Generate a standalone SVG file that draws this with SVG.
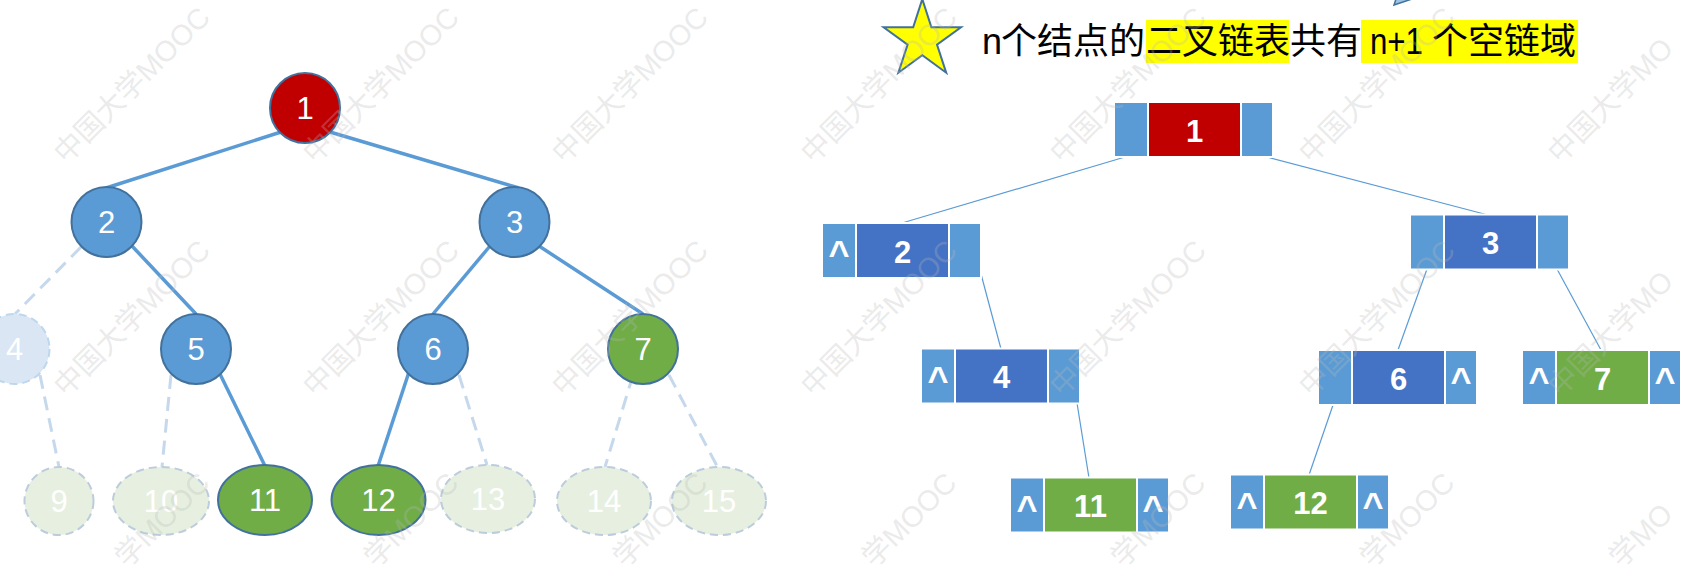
<svg xmlns="http://www.w3.org/2000/svg" width="1686" height="574" viewBox="0 0 1686 574">
<defs>
<style>
.wm{font-family:"Liberation Sans","Noto Sans CJK SC",sans-serif;font-size:29px;fill:#B8B8B8;fill-opacity:0.3}
.solid{stroke:#5B9BD5;stroke-width:3.5;fill:none}
.dash{stroke:#C5D8EC;stroke-width:3;stroke-dasharray:14 8;fill:none}
.nb{fill:#5B9BD5;stroke:#41719C;stroke-width:2}
.nr{fill:#C00000;stroke:#41719C;stroke-width:2}
.ng{fill:#70AD47;stroke:#41719C;stroke-width:2}
.fb{fill:#DAE6F4;stroke:#BDD7EE;stroke-width:2;stroke-dasharray:8 5}
.fg{fill:#E7F0E0;stroke:#BCCCDC;stroke-width:2;stroke-dasharray:8 5}
.lt{font-family:"Liberation Sans",Arial,sans-serif;font-size:31px;fill:#FFFFFF;text-anchor:middle}
.ptr{fill:#5B9BD5;stroke:#FFFFFF;stroke-width:2}
.db{fill:#4472C4;stroke:#FFFFFF;stroke-width:2}
.dg{fill:#70AD47;stroke:#FFFFFF;stroke-width:2}
.dr{fill:#C00000;stroke:#FFFFFF;stroke-width:2}
.rt{font-family:"Liberation Sans",Arial,sans-serif;font-weight:bold;font-size:31px;fill:#FFFFFF;text-anchor:middle}
.cr{font-family:"Liberation Sans",Arial,sans-serif;font-weight:bold;font-size:36px;fill:#FFFFFF;text-anchor:middle}
.link{stroke:#5B9BD5;stroke-width:1.2;fill:none}
.title{font-family:"Liberation Sans","Noto Sans CJK SC",sans-serif;font-size:36px;fill:#000000}
.hl{fill:#FFFF00}
</style>
</defs>

<g id="top-fragment">
<polygon points="1394,5 1412,-1 1396,-1" fill="#9DC3E6" stroke="#41719C" stroke-width="1.5"/>
</g>

<g id="title">
<polygon points="922.3,-0.9 931.4,27.3 961,27.2 937,44.6 946.2,72.7 922.3,55.3 898.4,72.7 907.6,44.6 883.6,27.2 913.2,27.3" fill="#FFFF00" stroke="#41719C" stroke-width="2"/>
<rect class="hl" x="1146" y="20" width="143" height="43"/>
<rect class="hl" x="1361" y="20" width="217" height="43"/>
<text class="title" y="54"><tspan x="982">n</tspan><tspan x="1001">个结点的</tspan><tspan x="1146">二叉链表</tspan><tspan x="1290">共有</tspan></text>
<text class="title" x="1370" y="54" textLength="53" lengthAdjust="spacingAndGlyphs">n+1</text>
<text class="title" x="1432" y="54">个空链域</text>
</g>

<g id="connectors">
<line class="solid" x1="281" y1="132" x2="106" y2="188"/>
<line class="solid" x1="330" y1="132" x2="519" y2="188"/>
<line class="solid" x1="132" y1="246" x2="196" y2="314"/>
<line class="dash" x1="81" y1="247" x2="15" y2="314"/>
<line class="solid" x1="490" y1="246" x2="433" y2="314"/>
<line class="solid" x1="539" y1="246" x2="643" y2="314"/>
<line class="dash" x1="40" y1="375" x2="59" y2="467"/>
<line class="dash" x1="171" y1="375" x2="162" y2="467"/>
<line class="solid" x1="219" y1="372" x2="265" y2="466"/>
<line class="solid" x1="409" y1="372" x2="378" y2="466"/>
<line class="dash" x1="459" y1="375" x2="487" y2="465"/>
<line class="dash" x1="633" y1="375" x2="605" y2="467"/>
<line class="dash" x1="669" y1="375" x2="717" y2="466"/>

<line class="link" x1="1125" y1="157" x2="902" y2="223"/>
<line class="link" x1="1267" y1="157" x2="1488" y2="215"/>
<line class="link" x1="981" y1="274" x2="1001" y2="349"/>
<line class="link" x1="1077" y1="403" x2="1089" y2="478"/>
<line class="link" x1="1427" y1="269" x2="1398" y2="350"/>
<line class="link" x1="1557" y1="269" x2="1601" y2="350"/>
<line class="link" x1="1333" y1="405" x2="1309" y2="475"/>
</g>

<g id="t1"><circle class="nr" cx="305" cy="108" r="35"/><text class="lt" x="305" y="119">1</text></g>
<g id="t2"><circle class="nb" cx="106.5" cy="222" r="35"/><text class="lt" x="106.5" y="233">2</text></g>
<g id="t3"><circle class="nb" cx="514.5" cy="222" r="35"/><text class="lt" x="514.5" y="233">3</text></g>
<g id="t4"><circle class="fb" cx="14.5" cy="349" r="35"/><text class="lt" x="14.5" y="360">4</text></g>
<g id="t5"><circle class="nb" cx="196" cy="349" r="35"/><text class="lt" x="196" y="360">5</text></g>
<g id="t6"><circle class="nb" cx="433" cy="349" r="35"/><text class="lt" x="433" y="360">6</text></g>
<g id="t7"><circle class="ng" cx="643" cy="349" r="35"/><text class="lt" x="643" y="360">7</text></g>
<g id="t9"><ellipse class="fg" cx="59" cy="501" rx="34.5" ry="34"/><text class="lt" x="59" y="512">9</text></g>
<g id="t10"><ellipse class="fg" cx="161" cy="501" rx="48" ry="34"/><text class="lt" x="161" y="512">10</text></g>
<g id="t11"><ellipse class="ng" cx="265" cy="500" rx="47" ry="35"/><text class="lt" x="265" y="511">11</text></g>
<g id="t12"><ellipse class="ng" cx="378.5" cy="500" rx="47" ry="35"/><text class="lt" x="378.5" y="511">12</text></g>
<g id="t13"><ellipse class="fg" cx="488" cy="499" rx="47" ry="34"/><text class="lt" x="488" y="510">13</text></g>
<g id="t14"><ellipse class="fg" cx="604" cy="501" rx="47" ry="34"/><text class="lt" x="604" y="512">14</text></g>
<g id="t15"><ellipse class="fg" cx="719" cy="501" rx="47" ry="34"/><text class="lt" x="719" y="512">15</text></g>

<g id="l1">
<rect class="ptr" x="1114" y="102" width="34" height="55"/>
<rect class="dr" x="1148" y="102" width="93" height="55"/>
<rect class="ptr" x="1241" y="102" width="32" height="55"/>
<text class="rt" x="1194.5" y="142">1</text>
</g>
<g id="l2">
<rect class="ptr" x="822" y="223" width="34" height="55"/>
<rect class="db" x="856" y="223" width="93" height="55"/>
<rect class="ptr" x="949" y="223" width="32" height="55"/>
<text class="cr" x="839" y="266">^</text>
<text class="rt" x="902.5" y="263">2</text>
</g>
<g id="l3">
<rect class="ptr" x="1410" y="214.5" width="34" height="55"/>
<rect class="db" x="1444" y="214.5" width="93" height="55"/>
<rect class="ptr" x="1537" y="214.5" width="32" height="55"/>
<text class="rt" x="1490.5" y="254">3</text>
</g>
<g id="l4">
<rect class="ptr" x="921" y="348.5" width="34" height="55"/>
<rect class="db" x="955" y="348.5" width="93" height="55"/>
<rect class="ptr" x="1048" y="348.5" width="32" height="55"/>
<text class="cr" x="938" y="392">^</text>
<text class="rt" x="1001.5" y="388">4</text>
</g>
<g id="l6">
<rect class="ptr" x="1318" y="350" width="34" height="55"/>
<rect class="db" x="1352" y="350" width="93" height="55"/>
<rect class="ptr" x="1445" y="350" width="32" height="55"/>
<text class="rt" x="1398.5" y="390">6</text>
<text class="cr" x="1461" y="393">^</text>
</g>
<g id="l7">
<rect class="ptr" x="1522" y="350" width="34" height="55"/>
<rect class="dg" x="1556" y="350" width="93" height="55"/>
<rect class="ptr" x="1649" y="350" width="32" height="55"/>
<text class="cr" x="1539" y="393">^</text>
<text class="rt" x="1602.5" y="390">7</text>
<text class="cr" x="1665" y="393">^</text>
</g>
<g id="l11">
<rect class="ptr" x="1010" y="477.5" width="34" height="55"/>
<rect class="dg" x="1044" y="477.5" width="93" height="55"/>
<rect class="ptr" x="1137" y="477.5" width="32" height="55"/>
<text class="cr" x="1027" y="521">^</text>
<text class="rt" x="1090.5" y="517">11</text>
<text class="cr" x="1153" y="521">^</text>
</g>
<g id="l12">
<rect class="ptr" x="1230" y="474.5" width="34" height="55"/>
<rect class="dg" x="1264" y="474.5" width="93" height="55"/>
<rect class="ptr" x="1357" y="474.5" width="32" height="55"/>
<text class="cr" x="1247" y="518">^</text>
<text class="rt" x="1310.5" y="514">12</text>
<text class="cr" x="1373" y="518">^</text>
</g>

<g id="watermarks">
<text class="wm" x="66" y="165" transform="rotate(-45 66 165)">中国大学MOOC</text>
<text class="wm" x="315" y="165" transform="rotate(-45 315 165)">中国大学MOOC</text>
<text class="wm" x="564" y="165" transform="rotate(-45 564 165)">中国大学MOOC</text>
<text class="wm" x="813" y="165" transform="rotate(-45 813 165)">中国大学MOOC</text>
<text class="wm" x="1062" y="165" transform="rotate(-45 1062 165)">中国大学MOOC</text>
<text class="wm" x="1311" y="165" transform="rotate(-45 1311 165)">中国大学MOOC</text>
<text class="wm" x="1560" y="165" transform="rotate(-45 1560 165)">中国大学MO</text>
<text class="wm" x="66" y="398" transform="rotate(-45 66 398)">中国大学MOOC</text>
<text class="wm" x="315" y="398" transform="rotate(-45 315 398)">中国大学MOOC</text>
<text class="wm" x="564" y="398" transform="rotate(-45 564 398)">中国大学MOOC</text>
<text class="wm" x="813" y="398" transform="rotate(-45 813 398)">中国大学MOOC</text>
<text class="wm" x="1062" y="398" transform="rotate(-45 1062 398)">中国大学MOOC</text>
<text class="wm" x="1311" y="398" transform="rotate(-45 1311 398)">中国大学MOOC</text>
<text class="wm" x="1560" y="398" transform="rotate(-45 1560 398)">中国大学MO</text>
<text class="wm" x="127" y="569" transform="rotate(-45 127 569)">学MOOC</text>
<text class="wm" x="376" y="569" transform="rotate(-45 376 569)">学MOOC</text>
<text class="wm" x="625" y="569" transform="rotate(-45 625 569)">学MOOC</text>
<text class="wm" x="874" y="569" transform="rotate(-45 874 569)">学MOOC</text>
<text class="wm" x="1123" y="569" transform="rotate(-45 1123 569)">学MOOC</text>
<text class="wm" x="1372" y="569" transform="rotate(-45 1372 569)">学MOOC</text>
<text class="wm" x="1621" y="569" transform="rotate(-45 1621 569)">学MO</text>
</g>
</svg>
